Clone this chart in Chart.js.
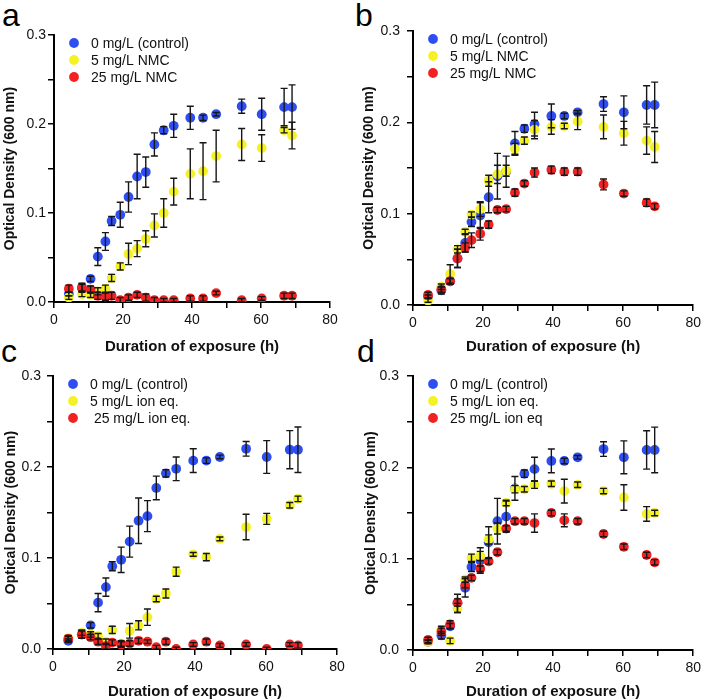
<!DOCTYPE html>
<html>
<head>
<meta charset="utf-8">
<script src="https://cdn.jsdelivr.net/npm/chart.js@4.4.1/dist/chart.umd.min.js"></script>
<style>
    body { margin: 0; background: #fff; width: 705px; height: 700px; position: relative; overflow: hidden; font-family: 'Liberation Sans', Arial, sans-serif; }
    canvas { position: absolute; }
    .letter { position: absolute; font-size: 32px; line-height: 1; color: #000; }
</style>
</head>
<body>
<div class="letter" style="left:2px;top:-1px">a</div>
<div class="letter" style="left:355px;top:-1px">b</div>
<div class="letter" style="left:1px;top:335px">c</div>
<div class="letter" style="left:357px;top:335px">d</div>
<canvas id="chart-a" width="352" height="362" style="left:0;top:0"></canvas>
<canvas id="chart-b" width="353" height="362" style="left:352px;top:0"></canvas>
<canvas id="chart-c" width="352" height="362" style="left:0;top:350px"></canvas>
<canvas id="chart-d" width="353" height="362" style="left:352px;top:350px"></canvas>
<script>
// Sampling times (h), shared by every panel
const hours = [4.3, 8.1, 10.6, 12.7, 14.9, 16.7, 19.2, 21.6, 24.1, 26.6, 29.1, 31.8, 34.7, 39.5, 43.2, 47, 54.4, 60.2, 66.7, 69];

// Control (0 mg/L), same in all panels
const controlOD  = [0.009, 0.016, 0.026, 0.051, 0.068, 0.091, 0.098, 0.118, 0.141, 0.146, 0.177, 0.193, 0.198, 0.207, 0.207, 0.211, 0.220, 0.211, 0.219, 0.219];
const controlErr = [0.002, 0.004, 0.003, 0.010, 0.010, 0.005, 0.014, 0.017, 0.025, 0.017, 0.013, 0.004, 0.013, 0.013, 0.003, 0.002, 0.008, 0.018, 0.021, 0.025];

// Panel a
const a5OD   = [0.005, 0.009, 0.008, 0.012, 0.015, 0.027, 0.040, 0.054, 0.060, 0.071, 0.086, 0.100, 0.124, 0.144, 0.147, 0.164, 0.177, 0.173, 0.193, 0.187];
const a5Err  = [0.002, 0.003, 0.003, 0.004, 0.004, 0.004, 0.004, 0.012, 0.009, 0.009, 0.013, 0.016, 0.015, 0.028, 0.032, 0.029, 0.018, 0.015, 0.003, 0.015];
const a25OD  = [0.015, 0.016, 0.014, 0.007, 0.006, 0.007, 0.002, 0.005, 0.008, 0.005, 0.002, 0.002, 0.002, 0.004, 0.004, 0.010, 0.002, 0.004, 0.007, 0.007];
const a25Err = [0.004, 0.005, 0.004, 0.004, 0.004, 0.004, 0.003, 0.003, 0.003, 0.004, 0.003, 0.002, 0.002, 0.003, 0.003, 0.002, 0.002, 0.002, 0.003, 0.003];

// Panel b
const b5OD   = [0.005, 0.020, 0.034, 0.061, 0.080, 0.099, 0.105, 0.136, 0.143, 0.147, 0.171, 0.180, 0.192, 0.195, 0.196, 0.201, 0.195, 0.188, 0.180, 0.173];
const b5Err  = [0.002, 0.003, 0.010, 0.004, 0.003, 0.003, 0.008, 0.006, 0.010, 0.006, 0.006, 0.004, 0.010, 0.008, 0.003, 0.009, 0.013, 0.013, 0.015, 0.017];
const b25OD  = [0.011, 0.017, 0.026, 0.051, 0.063, 0.071, 0.078, 0.088, 0.104, 0.105, 0.123, 0.133, 0.145, 0.148, 0.146, 0.146, 0.132, 0.122, 0.112, 0.108];
const b25Err = [0.003, 0.003, 0.003, 0.010, 0.005, 0.008, 0.007, 0.004, 0.003, 0.003, 0.004, 0.003, 0.005, 0.004, 0.004, 0.004, 0.006, 0.003, 0.004, 0.003];

// Panel c
const c5OD   = [0.012, 0.018, 0.016, 0.014, 0.008, 0.021, 0.006, 0.020, 0.026, 0.035, 0.055, 0.061, 0.085, 0.104, 0.101, 0.121, 0.134, 0.143, 0.158, 0.165];
const c5Err  = [0.003, 0.003, 0.003, 0.003, 0.003, 0.004, 0.003, 0.008, 0.005, 0.009, 0.003, 0.005, 0.005, 0.002, 0.004, 0.002, 0.014, 0.006, 0.003, 0.003];
const c25OD  = [0.011, 0.016, 0.013, 0.008, 0.003, 0.007, 0.005, 0.006, 0.009, 0.008, 0.002, 0.008, 0.000, 0.005, 0.008, 0.004, 0.005, 0.000, 0.005, 0.004];
const c25Err = [0.003, 0.004, 0.003, 0.003, 0.003, 0.003, 0.003, 0.003, 0.003, 0.002, 0.002, 0.003, 0.002, 0.002, 0.003, 0.002, 0.002, 0.002, 0.002, 0.003];

// Panel d
const d5OD   = [0.009, 0.022, 0.010, 0.046, 0.077, 0.101, 0.103, 0.121, 0.133, 0.161, 0.176, 0.176, 0.181, 0.182, 0.174, 0.181, 0.174, 0.167, 0.149, 0.150];
const d5Err  = [0.002, 0.004, 0.003, 0.005, 0.003, 0.004, 0.005, 0.005, 0.006, 0.003, 0.004, 0.003, 0.004, 0.003, 0.013, 0.003, 0.003, 0.014, 0.008, 0.003];
const d25OD  = [0.011, 0.020, 0.028, 0.052, 0.071, 0.079, 0.089, 0.097, 0.107, 0.133, 0.141, 0.141, 0.139, 0.150, 0.142, 0.141, 0.127, 0.113, 0.104, 0.096];
const d25Err = [0.003, 0.004, 0.004, 0.004, 0.003, 0.003, 0.003, 0.003, 0.003, 0.003, 0.003, 0.003, 0.010, 0.003, 0.007, 0.003, 0.003, 0.003, 0.003, 0.003];

// Legend labels
const nmcLabels  = ['0 mg/L (control)', '5 mg/L NMC', '25 mg/L NMC'];
const ionLabelsC = ['0 mg/L (control)', '5 mg/L ion eq.', ' 25 mg/L ion eq.'];
const ionLabelsD = ['0 mg/L (control)', '5 mg/L ion eq.', '25 mg/L ion eq'];

// Axis ticks
const yMajorTicks = [0, 0.1, 0.2, 0.3];
const xMajorTicks = [0, 20, 40, 60, 80];

const COLORS = ['#2e4ef2', '#f4f224', '#f22222'];
const FONT = "'Liberation Sans', Arial, sans-serif";
const POINT_R = 4.9;

// Error bars, drawn over the points
const errorBarPlugin = {
    id: 'errorBars',
    afterDatasetsDraw(chart) {
        const ctx = chart.ctx;
        const xs = chart.scales.x, ys = chart.scales.y;
        const area = chart.chartArea;
        ctx.save();
        ctx.beginPath();
        ctx.rect(area.left, area.top - 20, area.right - area.left, area.bottom - area.top + 20);
        ctx.clip();
        ctx.strokeStyle = '#161616';
        ctx.lineWidth = 1.4;
        chart.data.datasets.forEach(ds => {
            ds.data.forEach((p, i) => {
                const e = ds.errors[i];
                if (!e) return;
                const px = xs.getPixelForValue(p.x);
                const top = ys.getPixelForValue(p.y + e);
                const bot = ys.getPixelForValue(p.y - e);
                ctx.beginPath();
                ctx.moveTo(px, top); ctx.lineTo(px, bot);
                ctx.moveTo(px - 3.5, top); ctx.lineTo(px + 3.5, top);
                ctx.moveTo(px - 3.5, bot); ctx.lineTo(px + 3.5, bot);
                ctx.stroke();
            });
        });
        ctx.restore();
    }
};

// Legend inside the plot, top left
const insideLegendPlugin = {
    id: 'insideLegend',
    afterDraw(chart) {
        const ctx = chart.ctx;
        const area = chart.chartArea;
        ctx.save();
        ctx.font = '14px ' + FONT;
        ctx.textBaseline = 'middle';
        chart.data.datasets.forEach((ds, i) => {
            const y = area.top + 8 + i * 17;
            ctx.fillStyle = ds.backgroundColor;
            ctx.beginPath();
            ctx.arc(area.left + 20, y, POINT_R, 0, Math.PI * 2);
            ctx.fill();
            ctx.fillStyle = '#111';
            ctx.fillText(ds.label, area.left + 37, y + 1);
        });
        ctx.restore();
    }
};

function makeDataset(label, values, errors, color, order) {
    return {
        label: label,
        data: hours.map((h, i) => ({ x: h, y: values[i] })),
        errors: errors,
        backgroundColor: color,
        borderWidth: 0,
        pointRadius: POINT_R,
        order: order
    };
}

function makePanel(p) {
    const canvas = document.getElementById(p.id);
    const datasets = [
        makeDataset(p.labels[0], controlOD, controlErr, COLORS[0], 2),
        makeDataset(p.labels[1], p.od5, p.err5, COLORS[1], 1),
        makeDataset(p.labels[2], p.od25, p.err25, COLORS[2], 0)
    ];
    const yWidth = p.area.l - p.left;
    const xHeight = p.top + p.h - p.area.b;

    return new Chart(canvas.getContext('2d'), {
        type: 'scatter',
        data: { datasets: datasets },
        options: {
            responsive: false,
            devicePixelRatio: 1,
            animation: false,
            layout: {
                padding: { left: 0, top: p.area.t - p.top, right: p.left + p.w - p.area.r, bottom: 0 }
            },
            plugins: { legend: { display: false }, tooltip: { enabled: false } },
            scales: {
                x: {
                    type: 'linear', min: 0, max: 80,
                    afterFit: s => { s.height = xHeight; },
                    border: { color: '#000', width: 2 },
                    grid: { drawOnChartArea: false, drawTicks: true, tickLength: 6, color: '#000', lineWidth: 1.5 },
                    ticks: {
                        stepSize: 10, padding: 4, color: '#111', maxRotation: 0,
                        font: { family: FONT, size: 14 },
                        callback: v => xMajorTicks.includes(v) ? String(v) : ''
                    },
                    title: {
                        display: true, text: 'Duration of exposure (h)', color: '#111',
                        font: { family: FONT, size: 15, weight: 'bold' },
                        padding: { top: 0, bottom: p.top + p.h - p.xTitleY - 9 }
                    }
                },
                y: {
                    type: 'linear', min: 0, max: 0.3,
                    afterFit: s => { s.width = yWidth; },
                    border: { color: '#000', width: 2 },
                    grid: { drawOnChartArea: false, drawTicks: true, tickLength: 6, color: '#000', lineWidth: 1.5 },
                    ticks: {
                        stepSize: 0.05, padding: p.yTickPad, color: '#111',
                        font: { family: FONT, size: 14 },
                        callback: v => yMajorTicks.some(t => Math.abs(t - v) < 1e-6) ? v.toFixed(1) : ''
                    },
                    title: {
                        display: true, text: 'Optical Density (600 nm)', color: '#111',
                        font: { family: FONT, size: 14, weight: 'bold' },
                        padding: { top: p.yTitleX - p.left - 8.4, bottom: 0 }
                    }
                }
            }
        },
        plugins: [errorBarPlugin, insideLegendPlugin]
    });
}

const panels = [
    { id: 'chart-a', left: 0,   top: 0,   w: 352, h: 362, area: { l: 54,  r: 330, t: 35,  b: 302 }, yTitleX: 10,  xTitleY: 347, yTickPad: 2, labels: nmcLabels,  od5: a5OD, err5: a5Err, od25: a25OD, err25: a25Err },
    { id: 'chart-b', left: 352, top: 0,   w: 353, h: 362, area: { l: 413, r: 695, t: 31,  b: 305 }, yTitleX: 369, xTitleY: 347, yTickPad: 7, labels: nmcLabels,  od5: b5OD, err5: b5Err, od25: b25OD, err25: b25Err },
    { id: 'chart-c', left: 0,   top: 350, w: 352, h: 362, area: { l: 53,  r: 337, t: 376, b: 649 }, yTitleX: 11,  xTitleY: 692, yTickPad: 6, labels: ionLabelsC, od5: c5OD, err5: c5Err, od25: c25OD, err25: c25Err },
    { id: 'chart-d', left: 352, top: 350, w: 353, h: 362, area: { l: 413, r: 696, t: 376, b: 650 }, yTitleX: 371, xTitleY: 692, yTickPad: 8, labels: ionLabelsD, od5: d5OD, err5: d5Err, od25: d25OD, err25: d25Err }
];

panels.forEach(makePanel);
</script>
</body>
</html>
